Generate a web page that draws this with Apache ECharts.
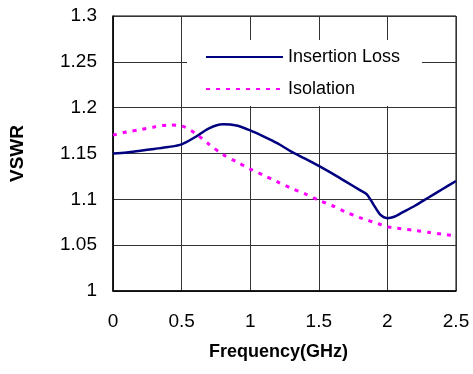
<!DOCTYPE html>
<html><head><meta charset="utf-8">
<script src="https://cdn.jsdelivr.net/npm/echarts@6/dist/echarts.min.js"></script>
<style>html,body{margin:0;padding:0;background:#fff}#c{width:473px;height:374px}</style>
</head><body><div id="c"></div>
<script>
const freq = [0,0.1,0.2,0.3,0.4,0.5,0.6,0.7,0.8,0.9,1.0,1.1,1.2,1.3,1.4,1.5,1.6,1.7,1.8,1.85,1.9,1.95,2.0,2.05,2.1,2.2,2.3,2.4,2.5];
const insertionLoss = [1.150,1.151,1.153,1.155,1.157,1.160,1.168,1.1775,1.1818,1.1805,1.1752,1.1685,1.161,1.152,1.1445,1.1365,1.128,1.119,1.110,1.1055,1.094,1.083,1.0795,1.081,1.085,1.093,1.102,1.111,1.120];
const isolation = [1.170,1.1735,1.176,1.179,1.181,1.180,1.172,1.160,1.149,1.141,1.133,1.126,1.119,1.112,1.106,1.099,1.093,1.086,1.080,1.0775,1.075,1.0725,1.070,1.069,1.068,1.066,1.064,1.062,1.060];
const xTickLabels = ['0','0.5','1','1.5','2','2.5'];
const yTickLabels = ['1','1.05','1.1','1.15','1.2','1.25','1.3'];
const seriesNames = ['Insertion Loss','Isolation'];

const chart = echarts.init(document.getElementById('c'), null, {renderer:'canvas'});
const font = 'Liberation Sans, Arial, sans-serif';
chart.setOption({
  animation:false,
  backgroundColor:'#fff',
  grid:{left:113,top:16,right:17,bottom:83,show:true,borderColor:'#000',borderWidth:1,backgroundColor:'transparent'},
  legend:{
    orient:'vertical', left:187, top:40,
    padding:[8,22,8,18], itemGap:14, itemWidth:77, itemHeight:18,
    backgroundColor:'#fff', data:seriesNames,
    itemStyle:{opacity:0},
    textStyle:{fontFamily:font,fontSize:18,color:'#000'}
  },
  xAxis:{
    type:'value', min:0, max:2.5, interval:0.5,
    name:'Frequency(GHz)', nameLocation:'middle', nameGap:52,
    nameTextStyle:{fontFamily:font,fontSize:18,fontWeight:'bold',color:'#000',padding:[0,12,0,0]},
    axisLine:{lineStyle:{color:'#000',width:1.5}},
    axisTick:{show:false},
    axisLabel:{fontFamily:font,fontSize:19,color:'#000',margin:21,
      formatter:(v)=>xTickLabels[Math.round(v/0.5)]},
    splitLine:{show:true,lineStyle:{color:'#333',width:1}}
  },
  yAxis:{
    type:'value', min:1, max:1.3, interval:0.05,
    name:'VSWR', nameLocation:'middle', nameGap:86, nameRotate:90,
    nameTextStyle:{fontFamily:font,fontSize:19,fontWeight:'bold',color:'#000'},
    axisLine:{show:true,lineStyle:{color:'#000',width:1.5}},
    axisTick:{show:false},
    axisLabel:{fontFamily:font,fontSize:19,color:'#000',margin:16,
      formatter:(v)=>yTickLabels[Math.round((v-1)/0.05)]},
    splitLine:{show:true,lineStyle:{color:'#333',width:1}}
  },
  series:[
    {name:seriesNames[0],type:'line',symbol:'none',smooth:0.3,z:3,
      data:freq.map((f,i)=>[f,insertionLoss[i]]),
      lineStyle:{color:'#000080',width:2.5},itemStyle:{color:'#000080'}},
    {name:seriesNames[1],type:'line',symbol:'none',smooth:0.3,z:2,
      data:freq.map((f,i)=>[f,isolation[i]]),
      lineStyle:{color:'#ff00ff',width:3,type:[4,6]},itemStyle:{color:'#ff00ff'}}
  ]
});
</script></body></html>
